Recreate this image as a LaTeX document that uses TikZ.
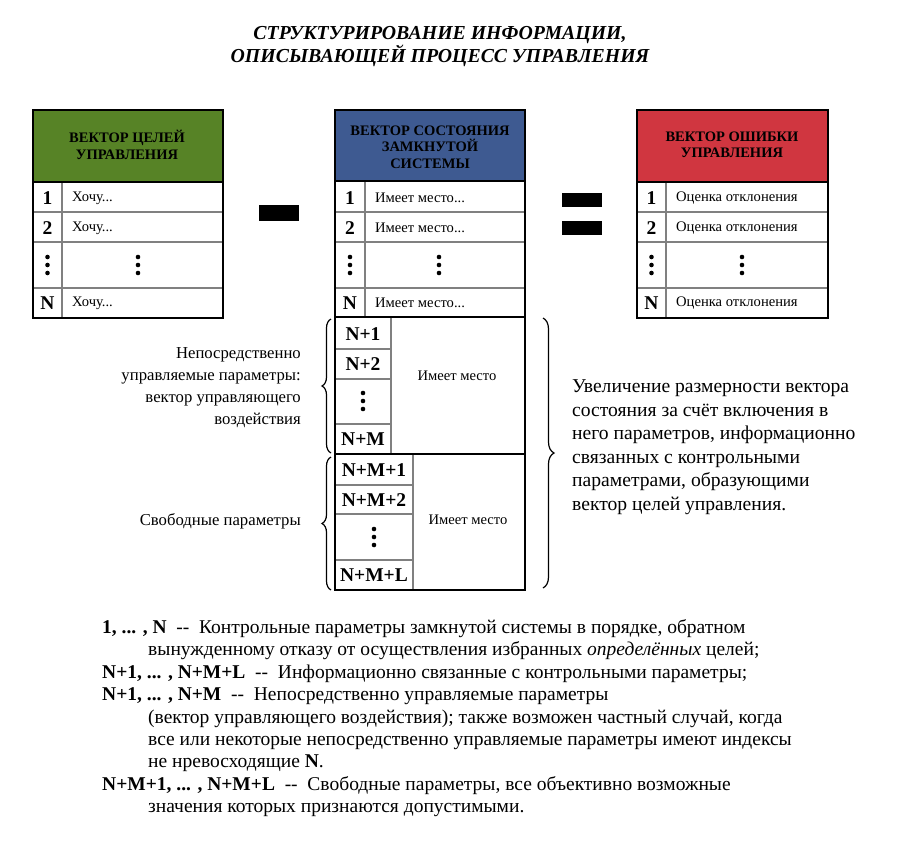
\documentclass[tikz,border=0pt]{standalone}
\usepackage{fontspec}
\setmainfont{Liberation Serif}
\usetikzlibrary{decorations.pathreplacing}
\definecolor{hgreen}{RGB}{87,131,38}
\definecolor{hblue}{RGB}{62,90,145}
\definecolor{hred}{RGB}{208,54,64}
\begin{document}
\begin{tikzpicture}[x=1pt,y=-1pt,
  outer/.style={line width=2.6pt},
  inner/.style={line width=1.1pt, draw=black!50},
  hdrtext/.style={font=\fontsize{14.5}{16.5}\selectfont\bfseries, align=center, inner sep=0},
  idx/.style={font=\fontsize{19.5}{22}\selectfont\bfseries, inner sep=0},
  celltext/.style={font=\fontsize{14.6}{16}\selectfont, anchor=west, inner sep=0},
  side/.style={font=\fontsize{16.7}{22}\selectfont, align=right, anchor=east, inner sep=0},
  note/.style={font=\fontsize{19.6}{23.5}\selectfont, align=left, anchor=west, inner sep=0},
  bot/.style={font=\fontsize{19.5}{22}\selectfont, anchor=west, inner sep=0, text height=13.6pt, text depth=3.9pt},
  brc/.style={decorate, line width=1.2pt},
  threedots/.pic={\fill (0,-8) circle (2.3); \fill (0,0) circle (2.3); \fill (0,8) circle (2.3);}
]
\path[use as bounding box] (0,0) rectangle (900,855);

% title
\node[font=\fontsize{19.8}{23}\selectfont\bfseries\itshape, align=center, inner sep=0] (title) at (440,47)
  {СТРУКТУРИРОВАНИЕ ИНФОРМАЦИИ,\\ОПИСЫВАЮЩЕЙ ПРОЦЕСС УПРАВЛЕНИЯ};

% ---------- left table ----------
\fill[hgreen] (33,110) rectangle (223,182);
\draw[inner] (33,212)--(223,212) (33,242)--(223,242) (33,288)--(223,288) (62,182)--(62,318);
\draw[outer] (33,110) rectangle (223,318);
\draw[outer] (33,182)--(223,182);
\node[hdrtext] (gH) at (127,145) {ВЕКТОР ЦЕЛЕЙ\\УПРАВЛЕНИЯ};
\node[idx] (g1) at (47.5,198) {1};
\node[idx] (g2) at (47.5,228) {2};
\node[idx] (gN) at (47.5,303) {N};
\node[celltext] (gt1) at (72,198) {Хочу...};
\node[celltext] (gt2) at (72,228) {Хочу...};
\node[celltext] (gtN) at (72,303) {Хочу...};
\pic at (47.5,265) {threedots};
\pic at (138,265) {threedots};

% ---------- middle table ----------
\fill[hblue] (335,110) rectangle (525,181);
\draw[inner] (335,212)--(525,212) (335,242)--(525,242) (335,288)--(525,288) (365,181)--(365,317);
\draw[outer] (335,110) rectangle (525,317);
\draw[outer] (335,181)--(525,181);
\node[hdrtext] (bH) at (430,147) {ВЕКТОР СОСТОЯНИЯ\\ЗАМКНУТОЙ\\СИСТЕМЫ};
\node[idx] (b1) at (350,198) {1};
\node[idx] (b2) at (350,228) {2};
\node[idx] (bN) at (350,303) {N};
\node[celltext] (bt1) at (375,198) {Имеет место...};
\node[celltext] (bt2) at (375,228) {Имеет место...};
\node[celltext] (btN) at (375,303) {Имеет место...};
\pic at (350,265) {threedots};
\pic at (439,265) {threedots};

% block A
\draw[inner] (335,349)--(391,349) (335,379)--(391,379) (335,424)--(391,424) (391,317)--(391,454);
\draw[outer] (335,317) rectangle (525,454);
\node[idx] (a1) at (363,334) {N+1};
\node[idx] (a2) at (363,364) {N+2};
\node[idx] (aM) at (363,439) {N+M};
\pic at (363,401) {threedots};
\node[celltext, anchor=center] (at) at (457,376) {Имеет место};

% block B
\draw[inner] (335,485)--(413,485) (335,514)--(413,514) (335,560)--(413,560) (413,454)--(413,590);
\draw[outer] (335,454) rectangle (525,590);
\node[idx] (c1) at (374,470) {N+M+1};
\node[idx] (c2) at (374,500) {N+M+2};
\node[idx] (cL) at (374,575) {N+M+L};
\pic at (374,537) {threedots};
\node[celltext, anchor=center] (ct) at (468,520) {Имеет место};

% ---------- right table ----------
\fill[hred] (637,110) rectangle (828,182);
\draw[inner] (637,212)--(828,212) (637,242)--(828,242) (637,288)--(828,288) (666,182)--(666,318);
\draw[outer] (637,110) rectangle (828,318);
\draw[outer] (637,182)--(828,182);
\node[hdrtext] (rH) at (732,145) {ВЕКТОР ОШИБКИ\\УПРАВЛЕНИЯ};
\node[idx] (r1) at (651.5,198) {1};
\node[idx] (r2) at (651.5,228) {2};
\node[idx] (rN) at (651.5,303) {N};
\node[celltext] (rt1) at (676,198) {Оценка отклонения};
\node[celltext] (rt2) at (676,228) {Оценка отклонения};
\node[celltext] (rtN) at (676,303) {Оценка отклонения};
\pic at (651.5,265) {threedots};
\pic at (742,265) {threedots};

% minus and equals
\fill (259,205) rectangle (299,221);
\fill (562,193) rectangle (602,207);
\fill (562,221) rectangle (602,235);

% braces
\draw[brc, decoration={brace, amplitude=9pt}] (331,453) -- (331,319);
\draw[brc, decoration={brace, amplitude=9pt}] (331,590) -- (331,457);
\draw[brc, decoration={brace, amplitude=11pt}] (543,318) -- (543,588);

% side texts
\node[side] (ctrl) at (301,388) {Непосредственно\\управляемые параметры:\\вектор управляющего\\воздействия};
\node[side] (free) at (301,521) {Свободные параметры};
\node[note] (incr) at (572,447) {Увеличение размерности вектора\\состояния за счёт включения в\\него параметров, информационно\\связанных с контрольными\\параметрами, образующими\\вектор целей управления.};

% bottom text
\node[bot] (l1) at (102,629) {\textbf{1, ... , N}\ \ {-}{-}\ \ Контрольные параметры замкнутой системы в порядке, обратном};
\node[bot] (l2) at (148,651) {вынужденному отказу от осуществления избранных \textit{определённых} целей;};
\node[bot] (l3) at (102,674) {\textbf{N+1, ... , N+M+L}\ \ {-}{-}\ \ Информационно связанные с контрольными параметры;};
\node[bot] (l4) at (102,696) {\textbf{N+1, ... , N+M}\ \ {-}{-}\ \ Непосредственно управляемые параметры};
\node[bot] (l5) at (148,719) {(вектор управляющего воздействия); также возможен частный случай, когда};
\node[bot] (l6) at (148,741) {все или некоторые непосредственно управляемые параметры имеют индексы};
\node[bot] (l7) at (148,763) {не нревосходящие \textbf{N}.};
\node[bot] (l8) at (102,786) {\textbf{N+M+1, ... , N+M+L}\ \ {-}{-}\ \ Свободные параметры, все объективно возможные};
\node[bot] (l9) at (148,808) {значения которых признаются допустимыми.};
\end{tikzpicture}
\end{document}
